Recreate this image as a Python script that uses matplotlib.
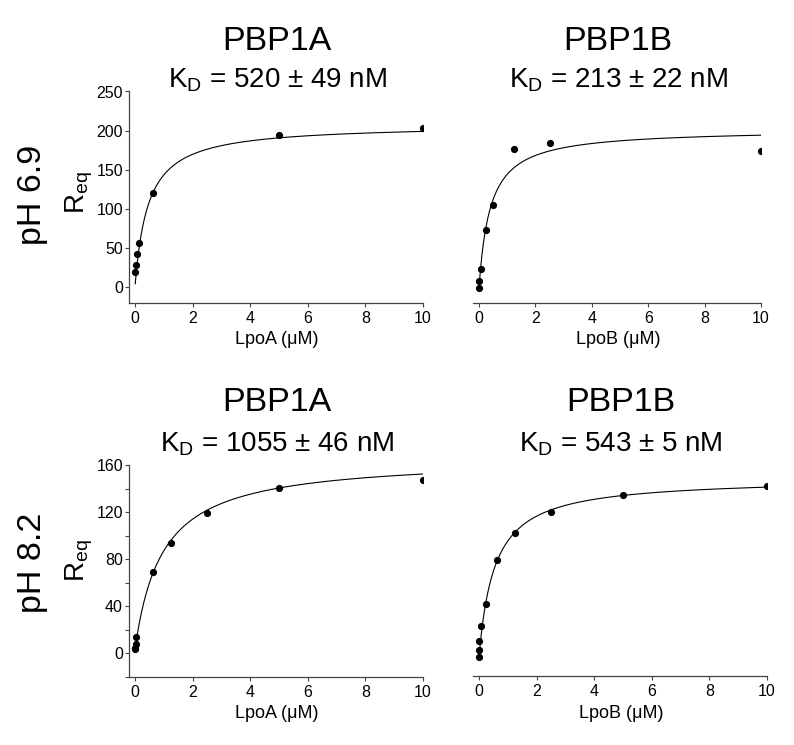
import numpy as np
import matplotlib
matplotlib.use("Agg")
import matplotlib.pyplot as plt
from matplotlib.ticker import FixedLocator

plt.rcParams['font.family'] = ['Liberation Sans', 'DejaVu Sans']
plt.rcParams['mathtext.fontset'] = 'custom'
plt.rcParams['mathtext.rm'] = 'Liberation Sans'
plt.rcParams['mathtext.it'] = 'Liberation Sans:italic'
plt.rcParams['mathtext.default'] = 'regular'

# ---------------- data ----------------
row_labels = ["pH 6.9", "pH 8.2"]
proteins = ["PBP1A", "PBP1B"]
kd_labels = [["K$_{D}$ = 520 ± 49 nM", "K$_{D}$ = 213 ± 22 nM"],
             ["K$_{D}$ = 1055 ± 46 nM", "K$_{D}$ = 543 ± 5 nM"]]
x_labels = ["LpoA (μM)", "LpoB (μM)"]

# pH 6.9, PBP1A
x_69A = [0.01, 0.02, 0.06, 0.13, 0.625, 5, 10]
y_69A = [20, 29, 42, 57, 121, 194, 203]
# pH 6.9, PBP1B
x_69B = [0.01, 0.01, 0.06, 0.25, 0.5, 1.25, 2.5, 10]
y_69B = [-1, 8, 23, 73, 105, 176, 184, 174]
# pH 8.2, PBP1A
x_82A = [0.005, 0.01, 0.02, 0.05, 0.625, 1.25, 2.5, 5, 10]
y_82A = [4, 5, 8, 14, 69, 93.5, 119, 140.6, 147.3]
# pH 8.2, PBP1B
x_82B = [0.005, 0.005, 0.01, 0.07, 0.23, 0.625, 1.25, 2.5, 5, 10]
y_82B = [-3.6, 2, 9.6, 22.3, 41.5, 79, 101.7, 120, 134, 141.7]

# one-site binding fit parameters (Rmax, KD in uM, offset)
fit_69A = (208, 0.45, 0)
fit_69B = (202, 0.40, 0)
fit_82A = (163, 0.95, 3.5)
fit_82B = (153, 0.543, -4)

y_ticks_top = [0, 50, 100, 150, 200, 250]
y_ticks_bottom = [0, 40, 80, 120, 160]
y_minor_bottom = [-20, 20, 60, 100, 140]
x_ticks = [0, 2, 4, 6, 8, 10]

panels = [
    [(x_69A, y_69A, fit_69A), (x_69B, y_69B, fit_69B)],
    [(x_82A, y_82A, fit_82A), (x_82B, y_82B, fit_82B)],
]
ylims = [(-20, 250), (-20, 160)]

# ---------------- layout (pixels) ----------------
W, H = 794, 745
fig = plt.figure(figsize=(W / 100, H / 100), dpi=100)

def add_axes_px(left, right, top, bottom):
    return fig.add_axes([left / W, 1 - bottom / H, (right - left) / W, (bottom - top) / H])

boxes = [
    [(129.2, 423, 91.5, 303), (473.4, 761, 91.5, 303)],
    [(129.2, 423, 465, 677), (473.2, 767, 465, 676)],
]
title_base = [50, 411]
kd_base = [88, 452]
xlabel_base = [344, 718]
row_center_y = [195, 563]

spine_col = '#444444'

for r in range(2):
    for c in range(2):
        xs, ys, (rmax, kd, off) = panels[r][c]
        ax = add_axes_px(*boxes[r][c])
        xf = np.linspace(min(xs), max(xs), 400)
        ax.plot(xf, rmax * xf / (kd + xf) + off, color='black', lw=0.8)
        ax.plot(xs, ys, 'o', color='black', ms=5.2, mew=0)
        ax.set_xlim(-0.2, 10)
        ax.set_ylim(*ylims[r])
        for s in ['top', 'right']:
            ax.spines[s].set_visible(False)
        ax.spines['bottom'].set_color(spine_col)
        ax.spines['bottom'].set_linewidth(0.9)
        ax.xaxis.set_major_locator(FixedLocator(x_ticks))
        ax.tick_params(axis='x', direction='out', length=3, width=0.8,
                       color=spine_col, labelsize=11.5, pad=2.5)
        if c == 0:
            ax.spines['left'].set_color(spine_col)
            ax.spines['left'].set_linewidth(0.9)
            ax.yaxis.set_major_locator(FixedLocator(y_ticks_top if r == 0 else y_ticks_bottom))
            if r == 1:
                ax.yaxis.set_minor_locator(FixedLocator(y_minor_bottom))
            ax.tick_params(axis='y', which='both', direction='out', length=3, width=0.8,
                           color=spine_col, labelsize=11.5, pad=1.5)
        else:
            ax.spines['left'].set_visible(False)
            ax.set_yticks([])
        cx = (boxes[r][c][0] + boxes[r][c][1]) / 2 + 1
        fig.text(cx / W, 1 - title_base[r] / H, proteins[c], ha='center', va='baseline', fontsize=24.5)
        fig.text(cx / W, 1 - kd_base[r] / H, kd_labels[r][c], ha='center', va='baseline', fontsize=20)
        fig.text(cx / W, 1 - xlabel_base[r] / H, x_labels[c], ha='center', va='baseline', fontsize=13)
    fig.text(33 / W, 1 - row_center_y[r] / H, row_labels[r], rotation=90, ha='center', va='center', fontsize=24.5)
    fig.text(79 / W, 1 - (row_center_y[r] - 2) / H, 'R$_{eq}$', rotation=90, ha='center', va='center', fontsize=20)

fig.savefig('out.png', dpi=100)
